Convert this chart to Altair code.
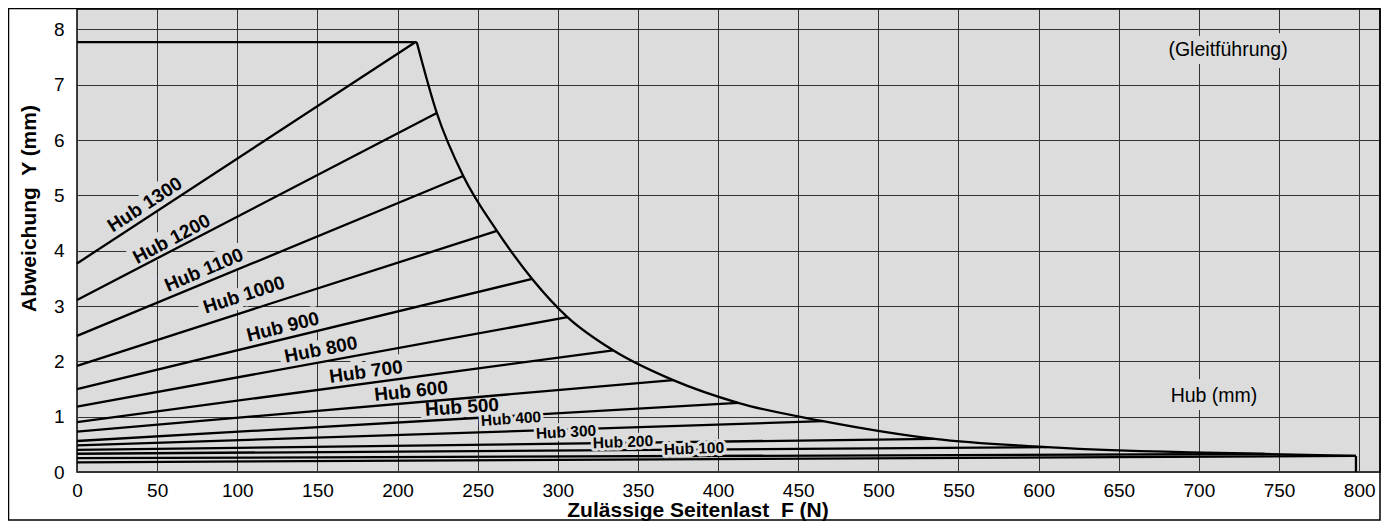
import altair as alt
import pandas as pd

# ---------------- data ----------------
hub_strokes = [1300, 1200, 1100, 1000, 900, 800, 700, 600, 500, 400, 300, 200, 100]
start_y = [3.77, 3.11, 2.46, 1.92, 1.50, 1.18, 0.90, 0.73, 0.56, 0.48, 0.40, 0.33, 0.25]
end_x = [211, 224.5, 241, 262, 284, 306, 334.5, 372, 412.5, 465.5, 535, 605, 741]
end_y = [7.77, 6.49, 5.35, 4.36, 3.49, 2.80, 2.20, 1.66, 1.25, 0.92, 0.60, 0.45, 0.325]

# envelope curve (limit of the permissible side load)
curve_x = [212, 224.5, 241, 262, 284, 306, 334.5, 372, 412.5, 465.5, 535, 605, 741, 798]
curve_y = [7.77, 6.49, 5.35, 4.36, 3.49, 2.80, 2.20, 1.66, 1.25, 0.92, 0.60, 0.45, 0.325, 0.29]

# straight boundary segments: top plateau, right drop, base line
seg_id = ["top", "top", "drop", "drop", "base", "base"]
seg_x = [0, 212, 798, 798, 0, 798]
seg_y = [7.77, 7.77, 0.29, 0.0, 0.175, 0.29]

# curve labels
label_text = ["Hub 1300", "Hub 1200", "Hub 1100", "Hub 1000", "Hub 900", "Hub 800",
              "Hub 700", "Hub 600", "Hub 500", "Hub 400", "Hub 300", "Hub 200", "Hub 100"]
label_x = [42.4, 59.1, 79.2, 104.2, 128.5, 152.2, 180.3, 208.4, 240.2, 270.8, 305.1, 340.7, 385.0]
label_y = [4.83, 4.21, 3.65, 3.20, 2.62, 2.21, 1.81, 1.46, 1.17, 0.96, 0.72, 0.54, 0.42]
label_angle = [327, 332, 337, 342, 346, 349, 352, 354, 356, 356, 357, 358, 358]
label_group = ["upper"] * 9 + ["lower"] * 4

note_text = ["(Gleitführung)", "Hub (mm)"]
note_x = [718.2, 709.4]
note_y = [7.63, 1.38]

x_ticks = list(range(0, 801, 50))
y_ticks = list(range(0, 9))

# ---------------- tables ----------------
rows = []
for h, y0, x1, y1 in zip(hub_strokes, start_y, end_x, end_y):
    rows.append({"hub": h, "x": 0, "y": y0})
    rows.append({"hub": h, "x": x1, "y": y1})
hub_df = pd.DataFrame(rows)
curve_df = pd.DataFrame({"x": curve_x, "y": curve_y})
seg_df = pd.DataFrame({"seg": seg_id, "x": seg_x, "y": seg_y})
lab_df = pd.DataFrame({"text": label_text, "x": label_x, "y": label_y,
                       "angle": label_angle, "group": label_group})
note_df = pd.DataFrame({"text": note_text, "x": note_x, "y": note_y})

BG = "#dcdcdc"
FONT = "Liberation Sans"
W, H = 1303, 463
LW = 2.3

xs = alt.Scale(domain=[0, 813], nice=False, zero=False)
ys = alt.Scale(domain=[0, 8.37], nice=False, zero=False)

x_axis = alt.Axis(values=x_ticks, grid=True, gridColor="#333333", gridWidth=1,
                  ticks=False, domain=False, labelFont=FONT, labelFontSize=19,
                  labelColor="#000000", labelPadding=9, labelFlush=False,
                  labelOverlap=False,
                  title="Zulässige Seitenlast\u00a0 F (N)", titleFont=FONT,
                  titleFontSize=21, titleFontWeight="bold", titleColor="#000000",
                  titleX=620.5, titleY=44.5, titleBaseline="alphabetic",
                  titleAlign="center")
y_axis = alt.Axis(values=y_ticks, grid=True, gridColor="#333333", gridWidth=1,
                  ticks=False, domain=False, labelFont=FONT, labelFontSize=19,
                  labelColor="#000000", labelPadding=13, labelFlush=False,
                  labelOverlap=False,
                  title="Abweichung\u00a0 Y (mm)", titleFont=FONT,
                  titleFontSize=21, titleFontWeight="bold", titleColor="#000000",
                  titleX=-42, titleY=199, titleAngle=270, titleAlign="center",
                  titleBaseline="alphabetic")

X = lambda: alt.X("x:Q", scale=xs, axis=x_axis)
Y = lambda: alt.Y("y:Q", scale=ys, axis=y_axis)

hub_lines = alt.Chart(hub_df).mark_line(color="#000000", strokeWidth=LW).encode(
    x=X(), y=Y(), detail="hub:N")

upper = lab_df[lab_df["group"] == "upper"]
lower = lab_df[lab_df["group"] == "lower"]

def halo(df, size, sw):
    return alt.Chart(df).mark_text(font=FONT, fontSize=size, fontWeight="bold",
                                   fill=BG, stroke=BG, strokeWidth=sw,
                                   strokeJoin="round", align="center",
                                   baseline="middle").encode(
        x=X(), y=Y(), text="text:N", angle=alt.Angle("angle:Q", scale=None))

def labels(df, size):
    return alt.Chart(df).mark_text(font=FONT, fontSize=size, fontWeight="bold",
                                   color="#000000", align="center",
                                   baseline="middle").encode(
        x=X(), y=Y(), text="text:N", angle=alt.Angle("angle:Q", scale=None))

halo_upper = halo(upper, 19, 12)
halo_lower = halo(lower, 15.5, 6)
text_upper = labels(upper, 19)
text_lower = labels(lower, 15.5)

note_halo = alt.Chart(note_df).mark_text(font=FONT, fontSize=19.5, fill=BG, stroke=BG,
                                         strokeWidth=16, strokeJoin="round",
                                         align="center", baseline="middle").encode(
    x=X(), y=Y(), text="text:N")
notes = alt.Chart(note_df).mark_text(font=FONT, fontSize=19.5, color="#000000",
                                     align="center", baseline="middle").encode(
    x=X(), y=Y(), text="text:N")

curve = alt.Chart(curve_df).mark_line(color="#000000", strokeWidth=LW,
                                      interpolate="monotone").encode(
    x=X(), y=Y(), order="x:Q")
segs = alt.Chart(seg_df).mark_line(color="#000000", strokeWidth=LW).encode(
    x=X(), y=Y(), detail="seg:N")

frame = alt.Chart(pd.DataFrame({"a": [0]})).mark_rect(
    fillOpacity=0, stroke="#000000", strokeWidth=1.5).encode(
    x=alt.value(-68.5), x2=alt.value(W), y=alt.value(-0.5), y2=alt.value(511))

chart = alt.layer(
    note_halo, halo_upper, segs, curve, hub_lines, halo_lower,
    text_upper, text_lower, notes, frame
).properties(
    width=W, height=H,
    padding={"left": 69, "top": 1, "right": 6, "bottom": 49},
    autosize=alt.AutoSizeParams(type="none"),
    background="#ffffff",
).configure_view(fill=BG, stroke="#000000", strokeWidth=1.5)

chart.save("out.html", embed_options={"renderer": "svg", "actions": False})
